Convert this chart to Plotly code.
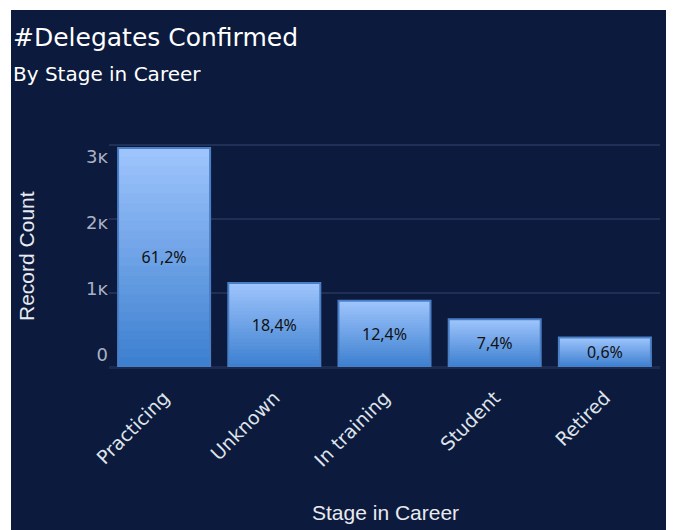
import plotly.graph_objects as go

categories = ["Practicing", "Unknown", "In training", "Student", "Retired"]
record_count = [2960, 1135, 895, 645, 400]
pct_labels = ["61,2%", "18,4%", "12,4%", "7,4%", "0,6%"]
y_tick_vals = [0, 1000, 2000, 3000]
y_tick_text = ["0", "1ĸ", "2ĸ", "3ĸ"]

BG = "#0c1a3d"
TOP = (157, 196, 252)
BOT = (62, 128, 208)
N = 24
FONT = "DejaVu Sans"
FONT2 = "Liberation Sans"

W, H = 673, 530
L, R, T, B = 11, 7, 10, 0
pw, ph = W - L - R, H - T - B


def px(x):
    return (x - L) / pw


def py(y):
    return (H - B - y) / ph


fig = go.Figure()
for k in range(N):
    f = 1 - k / N
    t = k / (N - 1)
    c = tuple(round(TOP[i] + (BOT[i] - TOP[i]) * t) for i in range(3))
    fig.add_trace(go.Bar(
        x=categories, y=[v * f for v in record_count],
        marker=dict(color="rgb(%d,%d,%d)" % c, line=dict(width=0)),
        hoverinfo="skip", showlegend=False,
    ))
# outline + labels
fig.add_trace(go.Bar(
    x=categories, y=record_count,
    marker=dict(color="rgba(0,0,0,0)", line=dict(color="#4a7fc6", width=2)),
    text=pct_labels, textposition="inside", insidetextanchor="middle",
    textfont=dict(family="Noto Sans", size=16, color="#111111"),
    showlegend=False,
))
# carrier for the tick-label axis
fig.add_trace(go.Scatter(
    x=categories, y=record_count, yaxis="y2", mode="markers",
    marker=dict(opacity=0), hoverinfo="skip", showlegend=False,
))

shapes = [dict(type="rect", xref="paper", yref="paper", x0=0, x1=1, y0=0, y1=1,
               fillcolor=BG, line=dict(width=0), layer="below")]

annotations = [
    dict(text="#Delegates Confirmed", xref="paper", yref="paper",
         x=px(11), y=py(37), xanchor="left", yanchor="middle",
         showarrow=False, font=dict(family=FONT, size=25, color="#ffffff")),
    dict(text="By Stage in Career", xref="paper", yref="paper",
         x=px(11), y=py(74), xanchor="left", yanchor="middle",
         showarrow=False, font=dict(family=FONT, size=20, color="#ffffff")),
    dict(text="Record Count", xref="paper", yref="paper",
         x=px(26), y=py(256), xanchor="center", yanchor="middle",
         textangle=-90, showarrow=False,
         font=dict(family=FONT2, size=21, color="#e8eaf0")),
    dict(text="Stage in Career", xref="paper", yref="paper",
         x=px(386), y=py(512), xanchor="center", yanchor="middle",
         showarrow=False, font=dict(family=FONT2, size=21, color="#e8eaf0")),
]

fig.update_layout(
    width=W, height=H,
    margin=dict(l=L, r=R, t=T, b=B, autoexpand=False),
    paper_bgcolor="#ffffff", plot_bgcolor="rgba(0,0,0,0)",
    barmode="overlay", bargap=0.165,
    shapes=shapes, annotations=annotations,
    xaxis=dict(domain=[px(109), px(660)], showgrid=False, zeroline=False, showline=False,
               tickangle=-45,
               tickfont=dict(family=FONT, size=19, color="#dfe3ea"),
               ticks="", ticklabelstandoff=15),
    yaxis=dict(domain=[py(367), py(141.3)], range=[0, 3050], tickvals=y_tick_vals,
               showticklabels=False,
               gridcolor="#1f2f55", gridwidth=2, zeroline=True,
               zerolinecolor="#1a2a50", zerolinewidth=3),
    yaxis2=dict(domain=[py(355), py(157)], range=[0, 3000], anchor="free",
                position=px(108), side="left", showgrid=False, zeroline=False,
                showline=False, ticks="", tickvals=y_tick_vals, ticktext=y_tick_text,
                tickfont=dict(family=FONT, size=18, color="#aab2c4")),
)
fig.write_html("out.html", config={"displayModeBar": False},
               post_script="document.body.style.margin='0';document.body.style.overflow='hidden';")
